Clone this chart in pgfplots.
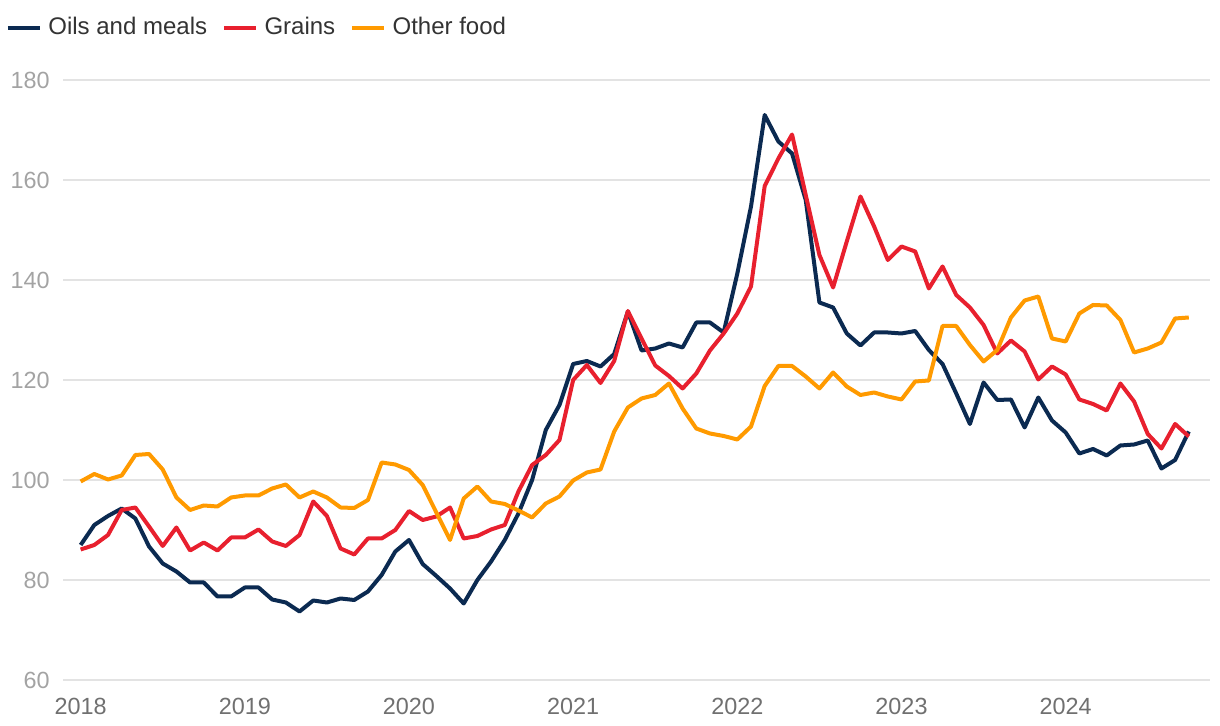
\documentclass[border=0pt]{standalone}
\usepackage{pgfplots}
\usepackage{pgfplotstable}
\pgfplotsset{compat=1.18}
\usepackage{fontspec}
\setmainfont{Liberation Sans}
\definecolor{oilc}{HTML}{0B2A51}
\definecolor{grainc}{HTML}{E8202E}
\definecolor{otherc}{HTML}{FF9A00}
\definecolor{gridc}{HTML}{E3E3E3}
\definecolor{ylab}{HTML}{A3A3A3}
\definecolor{xlab}{HTML}{707070}
\definecolor{legc}{HTML}{333333}
\pgfplotstableread{
m oil grain other
0 87 86.1 99.7
1 91 87 101.2
2 92.8 89 100.1
3 94.3 94 100.9
4 92.3 94.5 105
5 86.7 90.7 105.2
6 83.3 86.8 102.1
7 81.7 90.5 96.5
8 79.5 85.9 94
9 79.5 87.5 94.9
10 76.7 85.9 94.7
11 76.7 88.5 96.5
12 78.5 88.5 96.9
13 78.5 90.1 96.9
14 76.1 87.7 98.3
15 75.5 86.8 99.1
16 73.7 89 96.5
17 75.9 95.7 97.7
18 75.5 92.8 96.5
19 76.3 86.3 94.5
20 76 85.1 94.4
21 77.7 88.3 96
22 81 88.3 103.5
23 85.7 90 103.1
24 88 93.8 102
25 83.2 92 99
26 80.8 92.7 93.5
27 78.3 94.5 88
28 75.3 88.3 96.3
29 80 88.8 98.7
30 83.7 90.1 95.7
31 88 91 95.2
32 93.3 97.7 93.9
33 100 103 92.5
34 110 105 95.3
35 115 108 96.7
36 123.2 120 99.9
37 123.8 123 101.5
38 122.7 119.4 102.1
39 125.2 123.8 109.7
40 133.7 133.8 114.5
41 125.9 128.3 116.3
42 126.3 122.9 117
43 127.3 120.8 119.3
44 126.5 118.3 114.3
45 131.5 121.3 110.3
46 131.5 125.9 109.3
47 129.5 129.3 108.8
48 141.3 133.3 108.1
49 154.7 138.7 110.7
50 173 158.8 118.8
51 167.7 164.3 122.8
52 165.3 169.1 122.8
53 156 157 120.7
54 135.5 145 118.3
55 134.5 138.5 121.5
56 129.3 147.7 118.7
57 126.9 156.7 117
58 129.5 150.7 117.5
59 129.5 144 116.7
60 129.3 146.7 116.1
61 129.8 145.7 119.7
62 126 138.3 119.9
63 123.2 142.7 130.8
64 117.3 137 130.8
65 111.2 134.5 127
66 119.5 131 123.7
67 116 125.3 126
68 116.1 127.9 132.5
69 110.5 125.7 135.9
70 116.5 120.1 136.7
71 111.9 122.7 128.3
72 109.5 121.1 127.7
73 105.3 116.1 133.3
74 106.2 115.2 135
75 104.9 113.9 134.9
76 106.9 119.3 132
77 107.1 115.7 125.5
78 107.9 109.2 126.3
79 102.3 106.3 127.5
80 104 111.2 132.3
81 109.7 108.7 132.5
}\datatable
\begin{document}
\begin{tikzpicture}
\useasboundingbox (-31.5pt,-23pt) rectangle (578.5pt,340pt);
\begin{axis}[
  at={(0,0)}, anchor=south west,
  scale only axis, width=573.5pt, height=300pt,
  xmin=-1.29, xmax=82.55, ymin=60, ymax=180,
  axis line style={draw=none}, major tick style={draw=none},
  ytick={60,80,...,180},
  ymajorgrids, grid style={color=gridc, line width=0.9pt},
  xtick={0,12,24,36,48,60,72},
  xticklabels={2018,2019,2020,2021,2022,2023,2024},
  yticklabel style={font=\fontsize{11.7}{14}\selectfont, text=ylab, inner sep=0pt, xshift=-6.5pt},
  xticklabel style={font=\fontsize{11.7}{14}\selectfont, text=xlab, inner sep=0pt, yshift=-9pt},
  /pgf/number format/assume math mode=true,
  legend columns=-1,
  legend style={at={(axis description cs:-0.0497,1.087)}, anchor=west, draw=none, fill=none,
    inner sep=0pt, outer sep=0pt,
    font=\fontsize{12}{14}\selectfont, text=legc,
    nodes={inner sep=0pt},
    /tikz/every odd column/.append style={column sep=3.2pt},
    /tikz/every even column/.append style={column sep=7.5pt}},
  legend image code/.code={\draw[#1, line width=2pt] (0pt,0pt) -- (16pt,0pt);},
  every axis plot/.append style={line width=2pt, line join=round, mark=none},
]
\addplot[color=oilc] table[x=m, y=oil] {\datatable};
\addlegendentry{Oils and meals}
\addplot[color=grainc] table[x=m, y=grain] {\datatable};
\addlegendentry{Grains}
\addplot[color=otherc] table[x=m, y=other] {\datatable};
\addlegendentry{Other food}
\end{axis}
\end{tikzpicture}
\end{document}
